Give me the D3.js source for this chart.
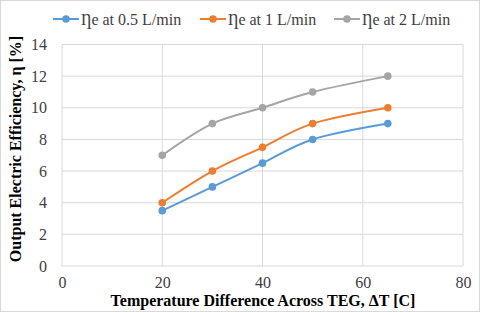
<!DOCTYPE html>
<html><head><meta charset="utf-8">
<script src="https://cdn.jsdelivr.net/npm/d3@7"></script>
<style>body{margin:0;background:#fff}svg{display:block}</style>
</head><body><div id="chart"></div>
<script>
const xValues = [20, 30, 40, 50, 65];
const seriesNames = ["Ƞe at 0.5 L/min", "Ƞe at 1 L/min", "Ƞe at 2 L/min"];
const eff05 = [3.5, 5, 6.5, 8, 9];
const eff1 = [4, 6, 7.5, 9, 10];
const eff2 = [7, 9, 10, 11, 12];
const xTicks = [0, 20, 40, 60, 80];
const yTicks = [0, 2, 4, 6, 8, 10, 12, 14];
const colors = ["#5B9BD5", "#ED7D31", "#A5A5A5"];

const W = 480, H = 312;
const svg = d3.select("#chart").append("svg").attr("width", W).attr("height", H);
svg.append("rect").attr("x",0.5).attr("y",0.5).attr("width",W-1).attr("height",H-1)
  .attr("fill","#fff").attr("stroke","#d9d9d9");

const x = d3.scaleLinear().domain([0,80]).range([62,463]);
const y = d3.scaleLinear().domain([0,14]).range([266,44.5]);
const font = "Liberation Serif, Times New Roman, serif";

const g = svg.append("g");
g.selectAll(".hg").data(yTicks).join("line")
  .attr("x1", x(0)).attr("x2", x(80)).attr("y1", d=>y(d)).attr("y2", d=>y(d))
  .attr("stroke","#d9d9d9").attr("stroke-width",1);
g.selectAll(".vg").data(xTicks).join("line")
  .attr("y1", y(0)).attr("y2", y(14)).attr("x1", d=>x(d)).attr("x2", d=>x(d))
  .attr("stroke","#d9d9d9").attr("stroke-width",1);

const xAxis = svg.append("g").attr("transform",`translate(0,${y(0)})`)
  .call(d3.axisBottom(x).tickValues(xTicks).tickSize(0).tickPadding(10.5));
const yAxis = svg.append("g").attr("transform",`translate(${x(0)},0)`)
  .call(d3.axisLeft(y).tickValues(yTicks).tickSize(0).tickPadding(15));
[xAxis,yAxis].forEach(a=>{
  a.attr("font-family",null).attr("font-size",null);
  a.select(".domain").remove();
  a.selectAll("text").style("font-family",font).style("font-size","16px").attr("fill","#404040");
});

svg.append("text").attr("x", 263).attr("y", 306).attr("text-anchor","middle")
  .style("font-family",font).style("font-weight","bold").style("font-size","16px").attr("fill","#000")
  .text("Temperature Difference Across TEG, ΔT [C]");
svg.append("text").attr("transform","translate(21,149) rotate(-90)").attr("text-anchor","middle")
  .style("font-family",font).style("font-weight","bold").style("font-size","16px").attr("fill","#000")
  .text("Output Electric Efficiency, η [%]");

const allSeries = [eff05, eff1, eff2];
const line = d3.line().x((d,i)=>x(xValues[i])).y(d=>y(d)).curve(d3.curveCatmullRom.alpha(0));
allSeries.forEach((s,k)=>{
  svg.append("path").datum(s).attr("d",line).attr("fill","none")
    .attr("stroke",colors[k]).attr("stroke-width",2);
  svg.selectAll(".m"+k).data(s).join("circle")
    .attr("cx",(d,i)=>x(xValues[i])).attr("cy",d=>y(d)).attr("r",3.8).attr("fill",colors[k]);
});

const legX = [53, 200, 334];
seriesNames.forEach((n,k)=>{
  const lg = svg.append("g").attr("transform",`translate(${legX[k]},19)`);
  lg.append("line").attr("x1",0).attr("x2",26).attr("stroke",colors[k]).attr("stroke-width",2);
  lg.append("circle").attr("cx",13).attr("r",3.8).attr("fill",colors[k]);
  lg.append("text").attr("x",28).attr("y",6).style("font-family",font).style("font-size","16px")
    .attr("fill","#404040").text(n);
});
</script></body></html>
